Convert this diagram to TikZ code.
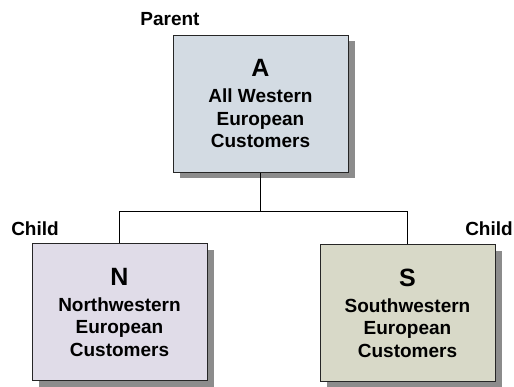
\documentclass[tikz,border=0pt]{standalone}
\usepackage{fontspec}
\setmainfont{Liberation Sans}
\usepackage{xcolor}
\usetikzlibrary{shadows}

\definecolor{ParentFill}{HTML}{D3DBE3}
\definecolor{NorthFill}{HTML}{E0DCE8}
\definecolor{SouthFill}{HTML}{D8D9C8}
\definecolor{ShadowGray}{HTML}{8C8C8C}

\begin{document}
\begin{tikzpicture}[
        % Environment Config
        x=1pt, y=-1pt,
        font=\bfseries\fontsize{19}{22.5}\selectfont,
        ClassBox/.style={% Style for the customer groups
          draw=black!85,
          line width=1pt,
          fill=#1,
          minimum width=175pt,
          minimum height=137pt,
          inner sep=0pt,
          align=center,
          drop shadow={shadow xshift=7pt, shadow yshift=-6pt, fill=ShadowGray, opacity=1}
        },
        Link/.style={% Style for the connectors
          line width=1pt
        },
        Role/.style={% Style for the parent / child labels
          anchor=base,
          inner sep=0pt
        }
      ]

      \def\GroupHead#1{{\fontsize{25}{28}\selectfont #1}}% Big letter on top

      \useasboundingbox (0,0) rectangle (514,386);

      % Put the groups in position
      \node[ClassBox=ParentFill] (A) at (260.5,103.5)
          {\GroupHead{A}\\[3.5pt]All Western\\European\\Customers};
      \node[ClassBox=NorthFill] (N) at (119.5,312)
          {\GroupHead{N}\\[3.5pt]Northwestern\\European\\Customers};
      \node[ClassBox=SouthFill] (S) at (407.5,313)
          {\GroupHead{S}\\[3.5pt]Southwestern\\European\\Customers};

      % Labels
      \node[Role] (ParentLbl) at (170,25) {Parent};
      \node[Role] (ChildN) at (35,235) {Child};
      \node[Role] (ChildS) at (489,235) {Child};

      % Draw the tree
      \coordinate (Bus) at (0,211);
      \draw[Link]
      (A.south)
          -- (A.south |- Bus)
      (N.north)
          -- (N.north |- Bus)
          -| (S.north);

      \end{tikzpicture}
\end{document}
